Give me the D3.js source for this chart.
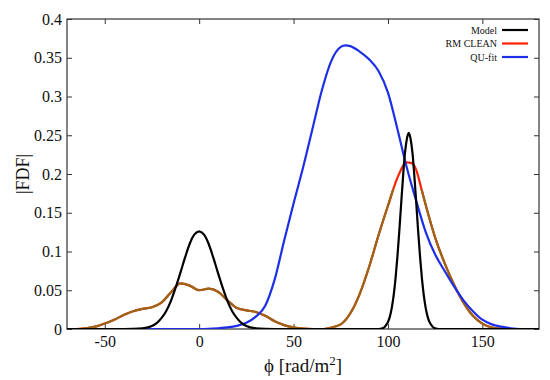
<!DOCTYPE html>
<html>
<head>
<meta charset="utf-8">
<script src="https://cdn.jsdelivr.net/npm/d3@7"></script>
<style>
body { margin: 0; background: #fff; }
text { font-family: "Liberation Serif", "Times New Roman", Times, "DejaVu Serif", serif; fill: #111; }
</style>
</head>
<body>
<svg id="chart" width="550" height="380"></svg>
<script>
/* Data */

var modelPhi = [-70,-40,-35,-30,-25,-22.5,-20,-17.5,-15,-12.5,-10,-7.5,-5,-2.5,0,2.5,5,7.5,10,12.5,15,17.5,20,22.5,25,30,35,40,
                94,96,98,99,100,101,102,103,104,105,106,107,108,109,110,111,112,113,114,115,116,117,118,119,120,121,122,123,124,126,128,180];
var modelFdf = [0,0,0.0002,0.001,0.004,0.0076,0.014,0.023,0.036,0.053,0.072,0.092,0.110,0.122,0.126,0.122,0.110,0.092,0.072,0.053,0.036,0.023,0.014,0.0076,0.004,0.001,0.0002,0,
                0,0.0003,0.002,0.005,0.009,0.016,0.027,0.043,0.065,0.093,0.126,0.162,0.197,0.227,0.245,0.253,0.245,0.227,0.197,0.162,0.126,0.093,0.065,0.043,0.027,0.016,0.009,0.005,0.002,0.0003,0,0];

var cleanPhi = [-70,-65,-60,-55,-50,-45,-40,-35,-30,-25,-20,-15,-10,-5,0,5,10,15,20,25,30,35,40,45,50,55,60,65,
                70,75,80,85,90,95,100,105,110,112.5,115,117.5,120,125,130,135,140,145,150,155,160,165,180];
var cleanFdf = [0,0,0.001,0.003,0.007,0.012,0.018,0.023,0.026,0.028,0.034,0.047,0.059,0.056,0.050,0.052,0.048,0.037,0.027,0.024,0.022,0.017,0.010,0.005,0.002,0.0005,0,0,
                0.002,0.006,0.020,0.045,0.080,0.121,0.159,0.195,0.215,0.214,0.205,0.183,0.160,0.118,0.085,0.057,0.034,0.017,0.007,0.002,0.0005,0,0];

var qufitPhi = [-70,0,5,10,15,20,25,30,35,40,45,50,55,60,65,70,75,77.5,80,85,90,95,100,105,110,115,120,125,130,135,140,145,150,155,160,165,170,180];
var qufitFdf = [0,0,0.0003,0.001,0.002,0.004,0.008,0.016,0.030,0.064,0.114,0.162,0.208,0.258,0.308,0.346,0.364,0.366,0.365,0.358,0.348,0.333,0.305,0.258,0.208,0.165,0.125,0.096,0.075,0.055,0.037,0.023,0.012,0.006,0.003,0.001,0,0];

var xTicks = [-50, 0, 50, 100, 150];
var yTicks = [0, 0.05, 0.1, 0.15, 0.2, 0.25, 0.3, 0.35, 0.4];

var legendLabels = ["Model", "RM CLEAN", "QU-fit"];

/* Measures */

var W = 550,
    H = 380;

var PLOT = { left: 67, right: 539, top: 19, bottom: 329 };

var TICK_LEN      = 5,
    LINE_WIDTH    = 2.2,
    RED_ABOVE     = 0.18;

var SERIF = "'Liberation Serif', 'Times New Roman', Times, 'DejaVu Serif', serif";

var COLORS = { model: "#000000", clean: "#ff2200", cleanLow: "#9a6419", qufit: "#1c2fe6", frame: "#333333" };

var svg = d3.select("#chart");

var x = d3.scaleLinear().domain([-70, 180]).range([PLOT.left, PLOT.right]);
var y = d3.scaleLinear().domain([0, 0.4]).range([PLOT.bottom, PLOT.top]);

function pairs(phi, fdf) {
	return phi.map(function(p, i) { return [p, fdf[i]]; });
}

var line = d3.line()
	.x(function(d) { return x(d[0]); })
	.y(function(d) { return y(d[1]); })
	.curve(d3.curveMonotoneX);

/* clip paths */
var defs = svg.append("defs");
defs.append("clipPath").attr("id", "plotclip")
	.append("rect")
	.attr("x", PLOT.left).attr("y", PLOT.top)
	.attr("width", PLOT.right - PLOT.left).attr("height", PLOT.bottom - PLOT.top);
defs.append("clipPath").attr("id", "lowclip")
	.append("rect")
	.attr("x", PLOT.left).attr("y", y(RED_ABOVE))
	.attr("width", PLOT.right - PLOT.left).attr("height", PLOT.bottom - y(RED_ABOVE));

/* axes: ticks inward on all four sides */
function fmtY(d) { return String(+d.toFixed(2)); }
function fmtX(d) { return String(d); }

var axisB = svg.append("g")
	.attr("transform", "translate(0," + PLOT.bottom + ")")
	.call(d3.axisBottom(x).tickValues(xTicks).tickSize(-TICK_LEN).tickPadding(7).tickFormat(fmtX));
var axisL = svg.append("g")
	.attr("transform", "translate(" + PLOT.left + ",0)")
	.call(d3.axisLeft(y).tickValues(yTicks).tickSize(-TICK_LEN).tickPadding(5).tickFormat(fmtY));
var axisT = svg.append("g")
	.attr("transform", "translate(0," + PLOT.top + ")")
	.call(d3.axisTop(x).tickValues(xTicks).tickSize(-TICK_LEN).tickFormat(""));
var axisR = svg.append("g")
	.attr("transform", "translate(" + PLOT.right + ",0)")
	.call(d3.axisRight(y).tickValues(yTicks).tickSize(-TICK_LEN).tickFormat(""));

[axisB, axisL, axisT, axisR].forEach(function(g) {
	g.attr("font-family", SERIF).attr("font-size", 16);
	g.select(".domain").remove();
	g.selectAll(".tick line").attr("stroke", COLORS.frame);
	g.selectAll(".tick text").attr("fill", "#111");
});

svg.append("rect")
	.attr("x", PLOT.left).attr("y", PLOT.top)
	.attr("width", PLOT.right - PLOT.left).attr("height", PLOT.bottom - PLOT.top)
	.attr("fill", "none")
	.attr("stroke", COLORS.frame)
	.attr("stroke-width", 1.2);

/* curves */
var curves = svg.append("g").attr("clip-path", "url(#plotclip)");

curves.append("path")
	.datum(pairs(cleanPhi, cleanFdf))
	.attr("d", line)
	.attr("fill", "none")
	.attr("stroke", COLORS.clean)
	.attr("stroke-width", LINE_WIDTH);

curves.append("g").attr("clip-path", "url(#lowclip)")
	.append("path")
	.datum(pairs(cleanPhi, cleanFdf))
	.attr("d", line)
	.attr("fill", "none")
	.attr("stroke", COLORS.cleanLow)
	.attr("stroke-width", LINE_WIDTH);

curves.append("path")
	.datum(pairs(qufitPhi, qufitFdf))
	.attr("d", line)
	.attr("fill", "none")
	.attr("stroke", COLORS.qufit)
	.attr("stroke-width", LINE_WIDTH);

curves.append("path")
	.datum(pairs(modelPhi, modelFdf))
	.attr("d", line)
	.attr("fill", "none")
	.attr("stroke", COLORS.model)
	.attr("stroke-width", LINE_WIDTH);

/* axis titles */
var xt = svg.append("text")
	.attr("x", (PLOT.left + PLOT.right) / 2)
	.attr("y", 372)
	.attr("text-anchor", "middle")
	.attr("font-family", SERIF)
	.attr("font-size", 19);
xt.append("tspan").text("\u03d5 [rad/m");
xt.append("tspan").attr("dy", -7).attr("font-size", 13).text("2");
xt.append("tspan").attr("dy", 7).text("]");

svg.append("text")
	.attr("transform", "translate(29," + ((PLOT.top + PLOT.bottom) / 2) + ") rotate(-90)")
	.attr("text-anchor", "middle")
	.attr("font-family", SERIF)
	.attr("font-size", 18)
	.text("|FDF|");

/* legend */
var legendColors = [COLORS.model, COLORS.clean, COLORS.qufit];
var legend = svg.append("g").selectAll("g")
	.data(legendLabels)
	.enter().append("g")
	.attr("transform", function(d, i) { return "translate(0," + (30 + i * 13.5) + ")"; });

legend.append("text")
	.attr("x", 497)
	.attr("dy", "0.35em")
	.attr("text-anchor", "end")
	.attr("font-family", SERIF)
	.attr("font-size", 10)
	.text(String);

legend.append("line")
	.attr("x1", 502).attr("x2", 528)
	.attr("stroke", function(d, i) { return legendColors[i]; })
	.attr("stroke-width", LINE_WIDTH);
</script>
</body>
</html>
